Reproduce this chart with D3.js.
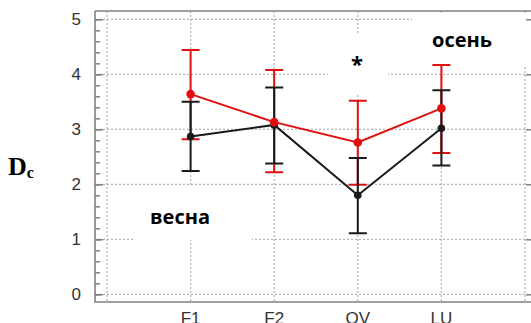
<!DOCTYPE html>
<html>
<head>
<meta charset="utf-8">
<script src="https://cdn.jsdelivr.net/npm/d3@7"></script>
<style>
  body { margin: 0; background: #fff; }
  svg { display: block; }
</style>
</head>
<body>
<svg id="chart" width="531" height="323"></svg>
<script>
// Daten
const categories = ["F1", "F2", "OV", "LU"];
const positions = [1, 2, 3, 4];
const yTicks = [0, 1, 2, 3, 4, 5];
const xGrid = [0, 1, 2, 3, 4, 5];

// весна (schwarz)
const springMean  = [2.87, 3.08, 1.80, 3.02];
const springUpper = [3.50, 3.76, 2.48, 3.71];
const springLower = [2.24, 2.38, 1.11, 2.34];

// осень (rot)
const autumnMean  = [3.64, 3.13, 2.76, 3.38];
const autumnUpper = [4.44, 4.08, 3.52, 4.17];
const autumnLower = [2.82, 2.22, 1.99, 2.57];

const svg = d3.select("#chart");

// Rahmen des Plots
const frame = {left: 95, right: 533, top: 11, bottom: 302};

const x = d3.scaleLinear().domain([0, 5]).range([107, 525]);
const y = d3.scaleLinear().domain([0, 5]).range([294.3, 19.3]);

const axisColor = "#808080";
const gridColor = "#b5b5b5";

// Gitterlinien
svg.append("g").selectAll("line")
  .data(yTicks)
  .enter().append("line")
  .attr("x1", frame.left).attr("x2", frame.right)
  .attr("y1", d => y(d)).attr("y2", d => y(d))
  .attr("stroke", gridColor).attr("stroke-width", 1.2)
  .attr("stroke-dasharray", "2,2");

svg.append("g").selectAll("line")
  .data(xGrid)
  .enter().append("line")
  .attr("x1", d => x(d)).attr("x2", d => x(d))
  .attr("y1", frame.top).attr("y2", frame.bottom)
  .attr("stroke", gridColor).attr("stroke-width", 1.2)
  .attr("stroke-dasharray", "2,2");

// weisse Kästchen über dem Gitter (Beschriftungen)
const boxes = [
  {x0: 133, x1: 252, y0: 187, y1: 240},
  {x0: 328, x1: 388, y0: 33, y1: 95},
  {x0: 412, x1: 531, y0: 13, y1: 65}
];
svg.append("g").selectAll("rect")
  .data(boxes)
  .enter().append("rect")
  .attr("x", d => d.x0).attr("y", d => d.y0)
  .attr("width", d => d.x1 - d.x0).attr("height", d => d.y1 - d.y0)
  .attr("fill", "#fff");

// Achsen links und rechts mit Ticks nach innen
const yAxisL = d3.axisLeft(y).tickValues(d3.range(0, 5.01, 0.2)).tickSize(-5).tickFormat("");
const yAxisMajorL = d3.axisLeft(y).tickValues(yTicks).tickSize(-8).tickPadding(14)
  .tickFormat(d3.format("d"));
const yAxisR = d3.axisRight(y).tickValues(yTicks).tickSize(-5).tickFormat("");

function styleAxis(g) {
  g.select(".domain").remove();
  g.selectAll(".tick line").attr("stroke", axisColor).attr("stroke-width", 1.5);
}

svg.append("g").attr("transform", `translate(${frame.left},0)`).call(yAxisL).call(styleAxis);
svg.append("g").attr("transform", `translate(${frame.left},0)`).call(yAxisMajorL).call(styleAxis)
  .selectAll("text")
  .attr("font-family", "Liberation Sans, Arial, sans-serif")
  .attr("font-size", 17)
  .attr("fill", "#333");
svg.append("g").attr("transform", `translate(${frame.right - 2},0)`).call(yAxisR).call(styleAxis);

// Rahmen
svg.append("path")
  .attr("d", `M${frame.left},${frame.top}H${frame.right}M${frame.left},${frame.top}V${frame.bottom}H${frame.right}`)
  .attr("fill", "none")
  .attr("stroke", axisColor)
  .attr("stroke-width", 1.6);

// X-Beschriftung (im Original unten abgeschnitten)
svg.append("g").selectAll("text")
  .data(categories)
  .enter().append("text")
  .attr("x", (d, i) => x(positions[i]))
  .attr("y", 324)
  .attr("text-anchor", "middle")
  .attr("font-family", "Liberation Sans, Arial, sans-serif")
  .attr("font-size", 17)
  .attr("fill", "#333")
  .text(d => d);

// Fehlerbalken zeichnen
function errorBars(upper, lower, color) {
  const g = svg.append("g").attr("stroke", color).attr("stroke-width", 2).attr("fill", "none");
  g.selectAll("path")
    .data(positions)
    .enter().append("path")
    .attr("d", (p, i) => {
      const cx = x(p), yu = y(upper[i]), yl = y(lower[i]);
      return `M${cx - 9},${yu}H${cx + 9}M${cx},${yu}V${yl}M${cx - 9},${yl}H${cx + 9}`;
    });
}

function series(mean, color, r) {
  const line = d3.line().x((p) => x(p)).y((p, i) => y(mean[i]));
  svg.append("path")
    .datum(positions)
    .attr("d", line)
    .attr("fill", "none")
    .attr("stroke", color)
    .attr("stroke-width", 2);
  svg.append("g").selectAll("circle")
    .data(positions)
    .enter().append("circle")
    .attr("cx", p => x(p))
    .attr("cy", (p, i) => y(mean[i]))
    .attr("r", r)
    .attr("fill", color);
}

errorBars(autumnUpper, autumnLower, "#e01010");
errorBars(springUpper, springLower, "#1a1a1a");
series(springMean, "#1a1a1a", 3.8);
series(autumnMean, "#e01010", 4.3);

// Beschriftungen
const labelFont = "'Open Sans', 'Noto Sans', sans-serif";
svg.append("text")
  .attr("x", 150).attr("y", 224)
  .attr("font-family", labelFont).attr("font-weight", "bold").attr("font-size", 20)
  .attr("fill", "#000")
  .text("весна");

svg.append("text")
  .attr("x", 432).attr("y", 47)
  .attr("font-family", labelFont).attr("font-weight", "bold").attr("font-size", 20)
  .attr("fill", "#000")
  .text("осень");

svg.append("text")
  .attr("x", 357).attr("y", 72)
  .attr("text-anchor", "middle")
  .attr("font-family", labelFont).attr("font-weight", "bold").attr("font-size", 22)
  .attr("fill", "#000")
  .text("*");

// D_c
const dc = svg.append("text")
  .attr("x", 8).attr("y", 175)
  .attr("font-family", "'Liberation Serif', 'Times New Roman', serif")
  .attr("font-weight", "bold")
  .attr("fill", "#000");
dc.append("tspan").attr("font-size", 26).text("D");
dc.append("tspan").attr("font-size", 16).attr("dy", 3).text("c");
</script>
</body>
</html>
